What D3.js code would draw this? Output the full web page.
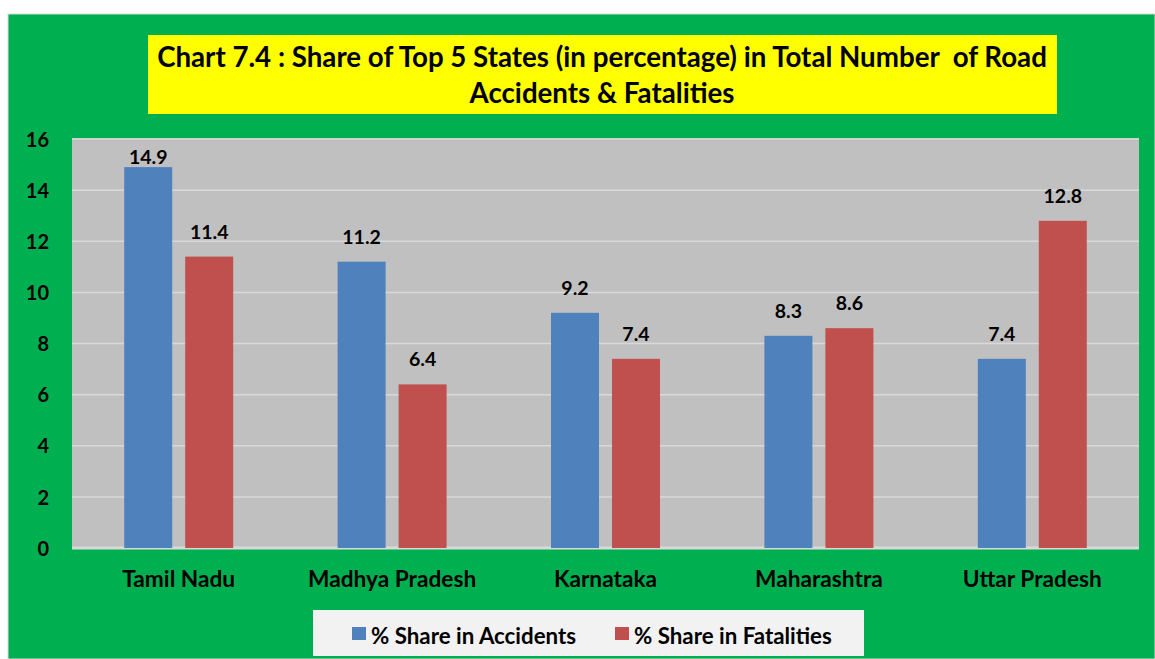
<!DOCTYPE html>
<html>
<head>
<meta charset="utf-8">
<script src="https://cdn.jsdelivr.net/npm/d3@7"></script>
<style>
  html, body { margin: 0; padding: 0; background: #fff; }
  svg { display: block; font-family: Lato, "Open Sans", sans-serif; font-weight: bold; }
</style>
</head>
<body>
<div id="chart"></div>
<script>
var states = ["Tamil Nadu", "Madhya Pradesh", "Karnataka", "Maharashtra", "Uttar Pradesh"];
var seriesNames = ["% Share in Accidents", "% Share in Fatalities"];
var accidents = [14.9, 11.2, 9.2, 8.3, 7.4];
var fatalities = [11.4, 6.4, 7.4, 8.6, 12.8];
var yTicks = [0, 2, 4, 6, 8, 10, 12, 14, 16];
var titleLines = ["Chart 7.4 : Share of Top 5 States (in percentage) in Total Number  of Road", "Accidents & Fatalities"];

var colors = ["#4f81bd", "#c0504d"];
var width = 1155, height = 659;
var plot = {left: 72, right: 1139, top: 138, bottom: 548};

var svg = d3.select("#chart").append("svg")
    .attr("width", width)
    .attr("height", height);

// green chart background
svg.append("rect")
    .attr("x", 8).attr("y", 14)
    .attr("width", width - 8).attr("height", height - 14)
    .attr("fill", "#00b050")
    .attr("stroke", "#d9d9d9")
    .attr("stroke-width", 1);

// title box
svg.append("rect")
    .attr("x", 148).attr("y", 35)
    .attr("width", 909).attr("height", 79)
    .attr("fill", "#ffff00");
svg.append("g").selectAll("text")
    .data(titleLines)
  .enter().append("text")
    .attr("x", 602)
    .attr("y", function(d, i) { return 67 + i * 36; })
    .attr("text-anchor", "middle")
    .attr("font-size", 27.7)
    .attr("fill", "#000")
    .style("white-space", "pre")
    .text(function(d) { return d; });

var x = d3.scaleBand().domain(states).range([plot.left, plot.right]).padding(0);
var x1 = d3.scaleBand().domain(seriesNames)
    .range([x.bandwidth() / 2 - 54.5, x.bandwidth() / 2 + 54.5])
    .paddingInner(0.213).paddingOuter(0);
var y = d3.scaleLinear().domain([0, 16]).range([plot.bottom, plot.top + 1]);

// plot area
svg.append("rect")
    .attr("x", plot.left).attr("y", plot.top)
    .attr("width", plot.right - plot.left).attr("height", plot.bottom - plot.top)
    .attr("fill", "#c0c0c0");

// gridlines
svg.append("g").selectAll("line")
    .data(yTicks)
  .enter().append("line")
    .attr("x1", plot.left).attr("x2", plot.right)
    .attr("y1", function(d) { return y(d); })
    .attr("y2", function(d) { return y(d); })
    .attr("stroke", "#d9d9d9")
    .attr("stroke-width", function(d) { return d === 0 ? 3 : 1.5; });

// y axis labels
var yAxis = svg.append("g")
    .attr("transform", "translate(" + (plot.left - 23) + ",0)")
    .call(d3.axisLeft(y).tickValues(yTicks).tickSize(0).tickPadding(0))
    .attr("font-family", null).attr("font-size", null);
yAxis.select(".domain").remove();
yAxis.selectAll("text")
    .attr("font-size", 20).attr("fill", "#000")
    .attr("dy", "0.36em");

// x axis labels
var xAxis = svg.append("g")
    .attr("transform", "translate(0," + plot.bottom + ")")
    .call(d3.axisBottom(x).tickSize(0))
    .attr("font-family", null).attr("font-size", null);
xAxis.select(".domain").remove();
xAxis.selectAll("text")
    .attr("y", 39).attr("dy", 0)
    .attr("font-size", 22.7).attr("fill", "#000");

var data = states.map(function(s, i) {
  return {state: s, values: [
    {name: seriesNames[0], value: accidents[i]},
    {name: seriesNames[1], value: fatalities[i]}
  ]};
});

var groups = svg.append("g").selectAll("g")
    .data(data)
  .enter().append("g")
    .attr("transform", function(d) { return "translate(" + x(d.state) + ",0)"; });

groups.selectAll("rect")
    .data(function(d) { return d.values; })
  .enter().append("rect")
    .attr("x", function(d) { return x1(d.name); })
    .attr("y", function(d) { return y(d.value); })
    .attr("width", x1.bandwidth())
    .attr("height", function(d) { return y(0) - y(d.value); })
    .attr("fill", function(d, i) { return colors[i]; });

// value labels sit above the bars, kept inside the plot area
groups.selectAll("text")
    .data(function(d) { return d.values; })
  .enter().append("text")
    .attr("x", function(d) { return x1(d.name) + x1.bandwidth() / 2; })
    .attr("y", function(d) { return Math.max(y(d.value) - 18, plot.top + 26); })
    .attr("text-anchor", "middle")
    .attr("font-size", 19.5)
    .attr("fill", "#000")
    .text(function(d) { return d.value.toFixed(1); });

// legend
var legend = svg.append("g");
legend.append("rect")
    .attr("x", 313).attr("y", 610)
    .attr("width", 551).attr("height", 46)
    .attr("fill", "#f2f2f2");
var legendX = [352, 615];
var items = legend.selectAll("g")
    .data(seriesNames)
  .enter().append("g")
    .attr("transform", function(d, i) { return "translate(" + legendX[i] + ",627)"; });
items.append("rect")
    .attr("width", 14).attr("height", 13)
    .attr("fill", function(d, i) { return colors[i]; });
items.append("text")
    .attr("x", 19).attr("y", 17)
    .attr("font-size", 22.3)
    .attr("fill", "#000")
    .text(function(d) { return d; });
</script>
</body>
</html>
